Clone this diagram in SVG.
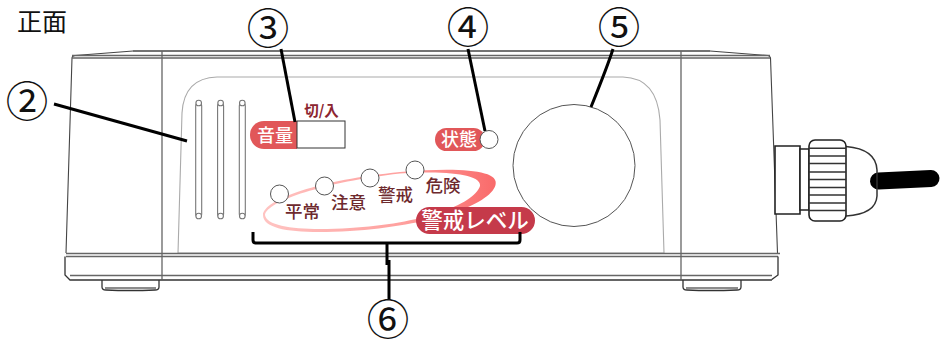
<svg xmlns="http://www.w3.org/2000/svg" width="940" height="344" viewBox="0 0 940 344">
<style>
text{font-family:"Noto Sans CJK JP","Noto Sans",sans-serif}
.b{fill:none;stroke:#444;stroke-width:1.1}
.d{fill:none;stroke:#666;stroke-width:1.3}
.l{fill:none;stroke:#aaa;stroke-width:1.1}
.k{fill:none;stroke:#333;stroke-width:1.3}
.s{fill:#fff;stroke:#777;stroke-width:1.1}
.c{fill:#fff;stroke:#555;stroke-width:1}
.cl{fill:none;stroke:#000;stroke-width:3}
.n{font-size:42.5px;fill:#111;text-anchor:middle}
.w{fill:#fff;font-weight:500;text-anchor:middle}
.m{fill:#6e2a2e;font-size:17.5px;font-weight:500;text-anchor:middle}
</style>
<defs>
<linearGradient id="g" x1="0" x2="1" y1="0" y2="0"><stop offset="0" stop-color="#ffc4c2"/><stop offset="0.6" stop-color="#ffa09e"/><stop offset="1" stop-color="#f96a6a"/></linearGradient>
</defs>
<g id="body">
<path class="b" d="M66 253L72 58Q72 56 75 55.500L133 51H710L768 55.500Q770 56 770.500 58L777.500 253"/>
<path class="d" d="M133 51H710M72 55.500H770M72 58H770"/>
<path class="d" d="M162 51V280M681 51V280"/>
<path class="l" d="M178 253L182 113Q184 78 217 77H623Q657 78 660 120L664 253"/>
<path class="l" d="M178 253H664"/>
<path class="d" d="M66 253.500H780M66 256.500H778"/>
<path class="k" d="M65 256.500V275L70 280H771L778 275V256.500"/>
<path class="d" d="M70 275.500H772M70 280H772"/>
<path class="k" d="M102 280V287Q102 290 106 290Q130 291 155 290Q159 290 159 287V280"/>
<path class="d" d="M105 288H156"/>
<path class="k" d="M683 280V287Q683 290 687 290Q710 291 737 290Q741 290 741 287V280"/>
<path class="d" d="M686 288H738"/>
</g>
<g id="slots">
<rect class="s" x="195.700" y="103" width="6" height="114" rx="3"/>
<rect class="s" x="217.600" y="103" width="6" height="114" rx="3"/>
<rect class="s" x="239.300" y="103" width="6" height="114" rx="3"/>
<circle class="s" cx="198.700" cy="103" r="2.800"/>
<circle class="s" cx="220.600" cy="103" r="2.800"/>
<circle class="s" cx="242.300" cy="103" r="2.800"/>
<circle class="s" cx="198.700" cy="216" r="2.800"/>
<circle class="s" cx="220.600" cy="216" r="2.800"/>
<circle class="s" cx="242.300" cy="216" r="2.800"/>
</g>
<g id="cable">
<path fill="none" stroke="#000" stroke-width="17" stroke-linecap="round" d="M878.500 181L931 178.500"/>
<path class="k" d="M846 146.500Q876 149 877 170V196Q876 214 846 216" style="stroke-width:1.5"/>
<path fill="#fff" stroke="#222" stroke-width="1.6" d="M775 146H800V214H775Z"/>
<path fill="#fff" stroke="#222" stroke-width="1.6" d="M800 149H809V210H800Z"/>
<rect x="809" y="140" width="37" height="81" rx="6" fill="#fff" stroke="#222" stroke-width="1.6"/>
<path stroke="#333" stroke-width="1.4" d="M809 148.300H846M809 156H846M809 163.500H846M809 172H846M809 179.500H846M809 187.500H846M809 195H846M809 203H846M809 210.500H846"/>
</g>
<g id="volume">
<path fill="#e15759" d="M297 121H264A14 14 0 0 0 250 135A14 14 0 0 0 264 149H297Z"/>
<text class="w" x="275" y="142" font-size="18">音量</text>
<rect x="297" y="121" width="48" height="27" fill="#fff" stroke="#333"/>
<text x="321.500" y="116" text-anchor="middle" font-size="14.500" font-weight="700" fill="#8c2530">切/入</text>
</g>
<g id="status">
<rect x="435" y="128" width="50" height="23" rx="11.500" fill="#e15759"/>
<text class="w" x="459" y="146" font-size="18">状態</text>
<circle class="c" cx="489" cy="139.500" r="9"/>
</g>
<g id="dial"><circle class="c" cx="574" cy="165.500" r="61"/></g>
<g id="level">
<path fill="url(#g)" fill-rule="evenodd" d="M263 215C264 199 320 180 400 172C460 167 500 170 495.500 185C490 205 430 226 350 231C300 234 263 231 263 215ZM265 215C267 228 305 231 350 228C420 224 474 205 480 186C482 175 450 170 400 173.500C325 182 267 201 265 215Z"/>
<circle class="c" cx="279.500" cy="194" r="9"/>
<circle class="c" cx="324.500" cy="186" r="9"/>
<circle class="c" cx="370" cy="178" r="9"/>
<circle class="c" cx="415" cy="170" r="9"/>
<text class="m" x="302.500" y="218">平常</text>
<text class="m" x="348.500" y="209">注意</text>
<text class="m" x="395.500" y="201">警戒</text>
<text class="m" x="443" y="192">危険</text>
<rect x="416" y="207" width="119" height="27" rx="13.500" fill="#c53a4a"/>
<text class="w" x="475" y="228" font-size="21.500" font-weight="700">警戒レベル</text>
</g>
<g id="connectors">
<path class="cl" d="M54 104L187 141"/>
<path class="cl" d="M281 49L295 122"/>
<path class="cl" d="M468 49L485 131"/>
<path class="cl" d="M613 49Q608 65 591 107"/>
<path class="cl" d="M253 232V240Q253 243 256 243H517Q520 243 520 240V232"/>
<path class="cl" d="M387 243V265M389 260V300"/>
</g>
<g id="labels">
<text x="17" y="31" font-size="25" fill="#111">正面</text>
<text class="n" x="27" y="116.500">②</text>
<text class="n" x="268" y="44">③</text>
<text class="n" x="468" y="43">④</text>
<text class="n" x="619" y="43">⑤</text>
<text class="n" x="388" y="335">⑥</text>
</g>
</svg>
